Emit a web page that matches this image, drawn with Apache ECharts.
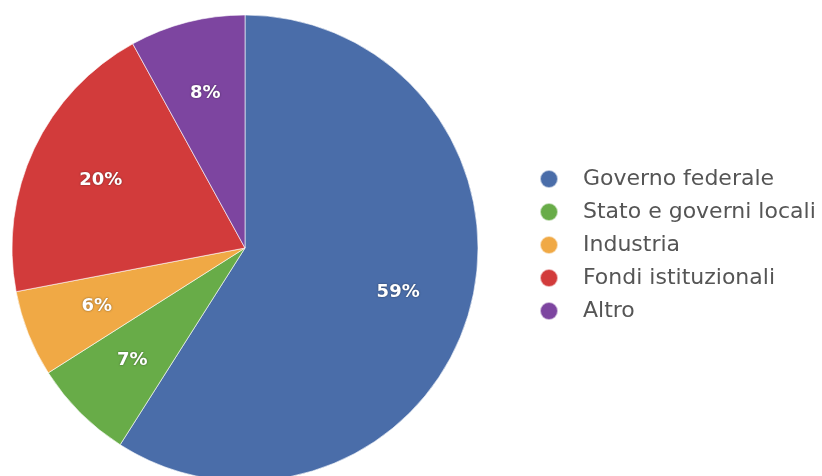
<!DOCTYPE html>
<html>
<head>
<meta charset="utf-8">
<script src="https://cdn.jsdelivr.net/npm/echarts@6/dist/echarts.min.js"></script>
<style>
html,body{margin:0;padding:0;background:#fff;}
#c{width:822px;height:476px;}
</style>
</head>
<body>
<div id="c"></div>
<script>
const categories = ['Governo federale', 'Stato e governi locali', 'Industria', 'Fondi istituzionali', 'Altro'];
const values = [59, 7, 6, 20, 8];
const colors = ['#4a6da9', '#68ac48', '#f0a945', '#d23b3b', '#7d45a0'];

const data = categories.map((n, i) => ({ name: n, value: values[i], itemStyle: { color: colors[i] } }));
const labelData = categories.map((n, i) => ({ name: n, value: values[i], itemStyle: { color: 'rgba(0,0,0,0)' } }));

const chart = echarts.init(document.getElementById('c'));
chart.setOption({
  animation: false,
  backgroundColor: '#fff',
  legend: {
    orient: 'vertical',
    left: 534,
    top: 163,
    icon: 'circle',
    itemWidth: 58,
    itemHeight: 18,
    itemGap: 11,
    textStyle: { fontFamily: 'DejaVu Sans', fontSize: 22, color: '#555' },
    data: categories
  },
  series: [
    {
      type: 'pie',
      center: [245, 248],
      radius: [0, 233],
      startAngle: 90,
      clockwise: true,
      label: { show: false },
      labelLine: { show: false },
      itemStyle: { borderColor: 'rgba(255,255,255,0.6)', borderWidth: 1 },
      data: data
    },
    {
      type: 'pie',
      center: [245, 248],
      radius: [80, 233],
      startAngle: 90,
      clockwise: true,
      silent: true,
      legendHoverLink: false,
      label: {
        show: true,
        position: 'inside',
        formatter: '{c}%',
        color: '#fff',
        fontFamily: 'DejaVu Sans',
        fontWeight: 'bold',
        fontSize: 18,
        textShadowColor: 'rgba(0,0,0,0.5)',
        textShadowBlur: 2
      },
      labelLine: { show: false },
      data: labelData
    }
  ]
});
</script>
</body>
</html>
